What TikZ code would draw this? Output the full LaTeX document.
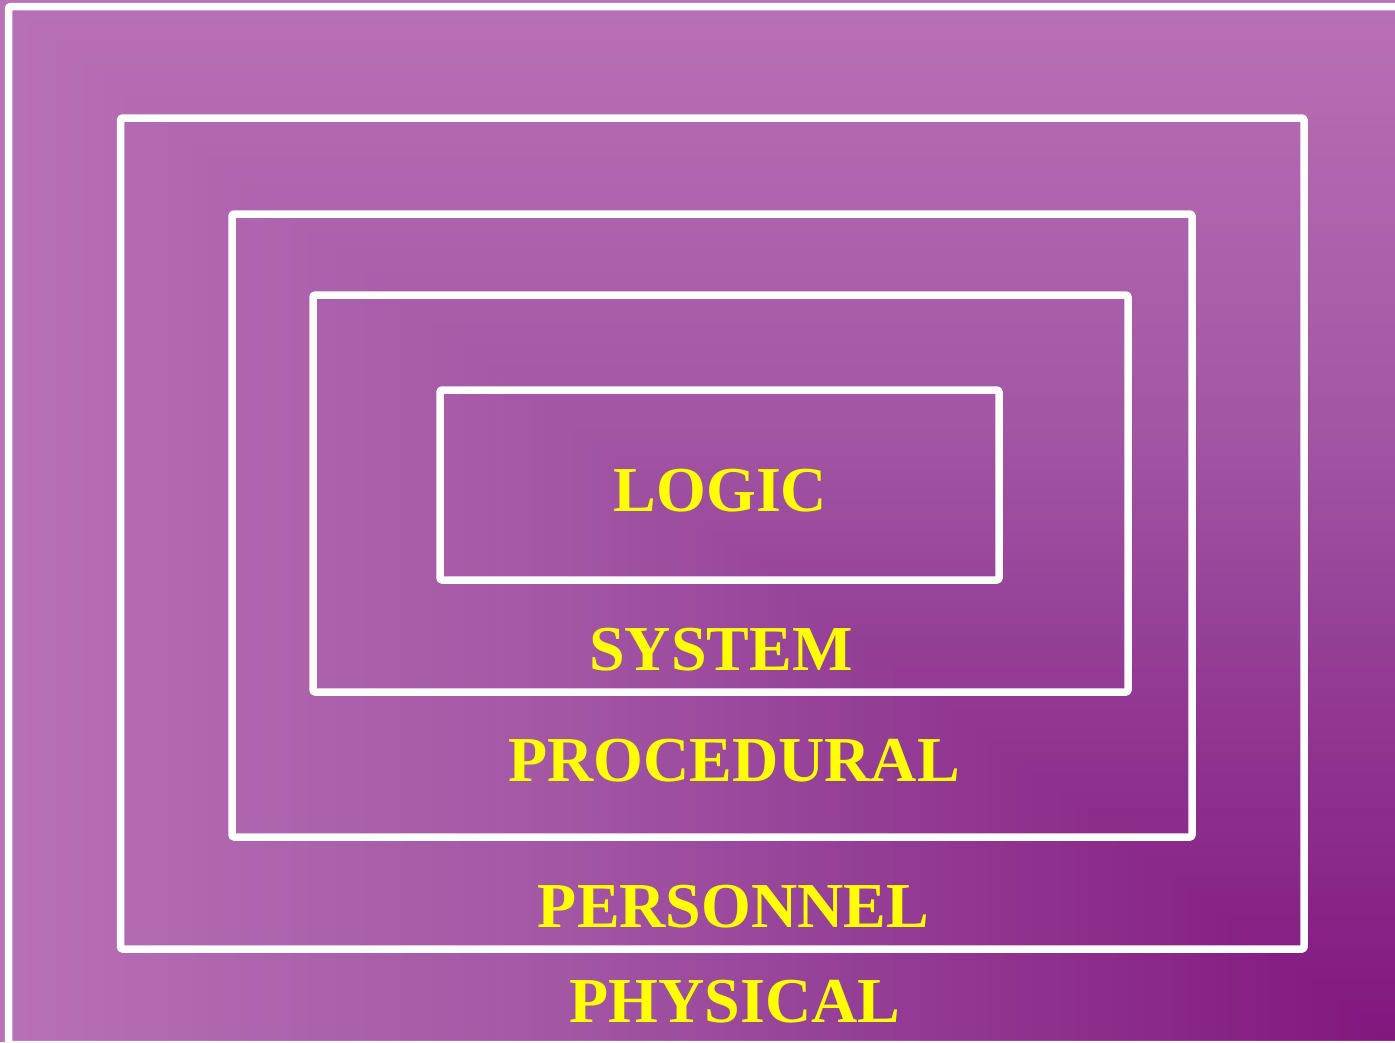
\documentclass[tikz,border=0pt]{standalone}
\usepackage{fontspec}
\setmainfont{Liberation Serif}
\definecolor{gzero}{RGB}{130,22,126}
\definecolor{gone}{RGB}{149,64,151}
\definecolor{gtwo}{RGB}{163,86,164}
\definecolor{gthree}{RGB}{184,112,182}
\definecolor{labelyellow}{RGB}{255,255,0}
\tikzset{
  layerbox/.style={draw=white, line width=7.5pt, line join=round, rounded corners=1.5pt},
  layerlabel/.style={text=labelyellow, font=\fontsize{64}{70}\selectfont\bfseries, anchor=base, inner sep=0pt}
}
\begin{document}
\begin{tikzpicture}[x=1pt,y=-1pt]
\useasboundingbox (0,0) rectangle (1395,1042);
\begin{scope}
\clip (0,0) rectangle (1395,1042);
% corner gradient (darkest at bottom-right)
\fill[gthree] (0,0) rectangle (1395,1042);
\foreach \i in {100,...,61}{
  \pgfmathtruncatemacro\p{(\i-60)/40*100}
  \colorlet{cc}{gthree!\p!gtwo}
  \fill[cc] ({1395-13.95*\i},{1042-10.42*\i}) rectangle (1395,1042);
}
\foreach \i in {60,...,41}{
  \pgfmathtruncatemacro\p{(\i-40)/20*100}
  \colorlet{cc}{gtwo!\p!gone}
  \fill[cc] ({1395-13.95*\i},{1042-10.42*\i}) rectangle (1395,1042);
}
\foreach \i in {40,...,1}{
  \pgfmathtruncatemacro\p{\i/40*100}
  \colorlet{cc}{gone!\p!gzero}
  \fill[cc] ({1395-13.95*\i},{1042-10.42*\i}) rectangle (1395,1042);
}
\draw[layerbox] (8.5,6.5) rectangle (1402,1044.5);
\end{scope}
\draw[layerbox] (120.5,118) rectangle (1304,949);
\draw[layerbox] (232,214) rectangle (1192,837);
\draw[layerbox] (313,295) rectangle (1128,692);
\draw[layerbox] (440,390) rectangle (999,580);
\node[layerlabel] (logic) at (720.5,511.5) {LOGIC};
\node[layerlabel] (system) at (721,670.5) {SYSTEM};
\node[layerlabel] (procedural) at (734,781.5) {PROCEDURAL};
\node[layerlabel] (personnel) at (733.5,927.5) {PERSONNEL};
\node[layerlabel] (physical) at (735,1022) {PHYSICAL};
\end{tikzpicture}
\end{document}
